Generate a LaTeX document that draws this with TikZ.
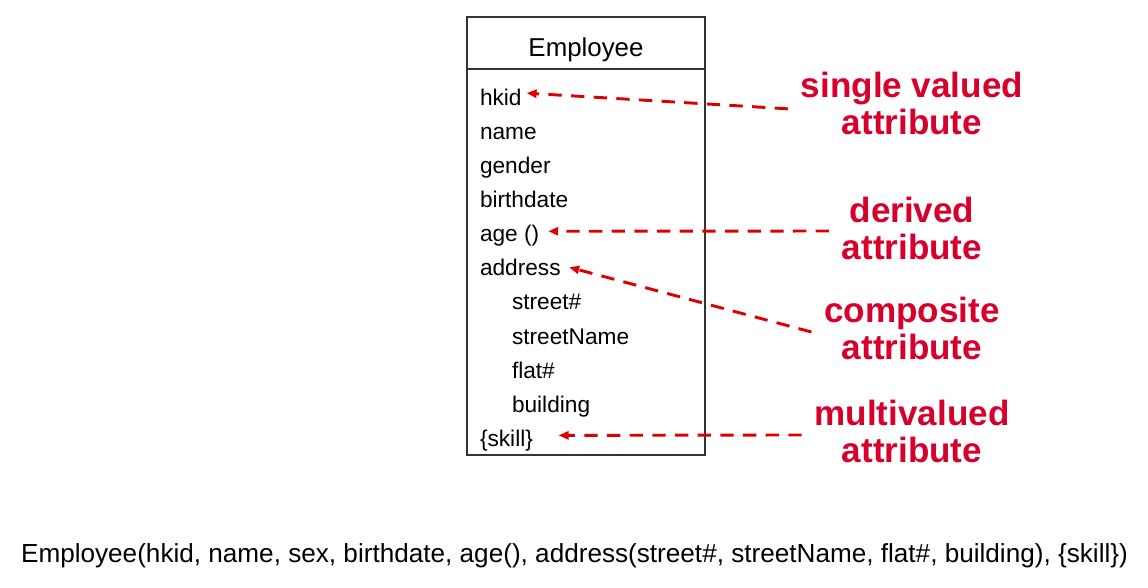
\documentclass[tikz,border=0pt]{standalone}
\usepackage{fontspec}
\setmainfont{Liberation Sans}
\usetikzlibrary{arrows.meta, positioning}
\definecolor{labelred}{RGB}{214,0,42}
\definecolor{arrowred}{RGB}{222,0,0}

\begin{document}
\begin{tikzpicture}[
    x=0.75pt, y=-0.75pt,
    classbox/.style={
        draw=black!80,
        line width=0.8pt,
        rectangle,
        inner sep=0pt,
        outer sep=0pt,
        minimum width=178.5pt
    },
    attr/.style={
        inner sep=0pt,
        outer sep=0pt,
        minimum height=25.6pt,
        text height=12pt,
        text depth=3.5pt,
        font=\fontsize{17}{20}\selectfont
    },
    note/.style={
        text=labelred,
        align=center,
        inner xsep=9.5pt,
        inner ysep=0pt,
        font=\bfseries\fontsize{26.3}{27.75}\selectfont
    },
    arrow/.style={
        ->,
        >={Triangle[length=7.5pt, width=6pt]},
        draw=arrowred,
        line width=2.2pt,
        dash pattern=on 10pt off 7pt
    }
]
\useasboundingbox (0,0) rectangle (1148,588);

% class box
\node[classbox, minimum height=39pt, text height=21pt, text depth=1pt,
      font=\fontsize{19.4}{22}\selectfont] (title) at (586,43) {Employee};
\node[classbox, below=0pt of title, minimum height=289.5pt] (body) {};

% attributes
\node[attr, below right=10pt and 9.75pt of body.north west] (hkid) {hkid};
\node[attr, below=0pt of hkid.south west, anchor=north west] (name) {name};
\node[attr, below=0pt of name.south west, anchor=north west] (gender) {gender};
\node[attr, below=0pt of gender.south west, anchor=north west] (birthdate) {birthdate};
\node[attr, below=0pt of birthdate.south west, anchor=north west] (age) {age ()};
\node[attr, below=0pt of age.south west, anchor=north west] (address) {address};
\node[attr, below=0pt of address.south west, anchor=north west, xshift=24pt] (streetno) {street\#};
\node[attr, below=0pt of streetno.south west, anchor=north west] (streetname) {streetName};
\node[attr, below=0pt of streetname.south west, anchor=north west] (flat) {flat\#};
\node[attr, below=0pt of flat.south west, anchor=north west] (building) {building};
\node[attr, below=0pt of building.south west, anchor=north west, xshift=-24pt] (skill) {\{skill\}};

% notes
\node[note] (single) at (912,103.5) {single valued\\attribute};
\node[note] (derived) at (912,228) {derived\\attribute};
\node[note] (composite) at (912,328) {composite\\attribute};
\node[note] (multi) at (912,431.5) {multivalued\\attribute};

\draw[arrow] ([yshift=-4pt]single.west) -- ([xshift=3.75pt, yshift=4.7pt]hkid.east);
\draw[arrow] ([yshift=-2.25pt]derived.west) -- ([xshift=6.75pt, yshift=3.5pt]age.east);
\draw[arrow] ([yshift=-3pt]composite.west) -- ([xshift=6.4pt, yshift=2.1pt]address.east);
\draw[arrow] ([yshift=-2.6pt]multi.west) -- ([xshift=19.2pt, yshift=4pt]skill.east);

% relation schema
\node[font=\fontsize{19.6}{22}\selectfont, anchor=base] (schema) at (574.5,562)
    {Employee(hkid, name, sex, birthdate, age(), address(street\#, streetName, flat\#, building), \{skill\})};

\end{tikzpicture}
\end{document}
